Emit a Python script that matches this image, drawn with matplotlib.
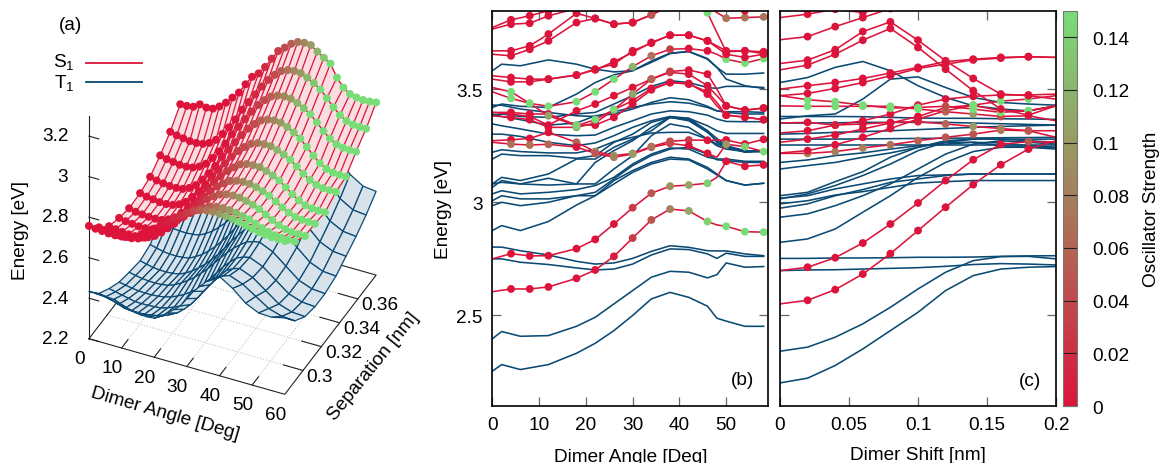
import matplotlib
matplotlib.use('Agg')
import matplotlib.pyplot as plt
import numpy as np
from matplotlib.colors import LinearSegmentedColormap
from matplotlib.lines import Line2D

plt.rcParams['font.family'] = ['Liberation Sans', 'DejaVu Sans']
plt.rcParams['mathtext.default'] = 'regular'
plt.rcParams['font.size'] = 13.7

# ------------------------------
# panel (a): surfaces
surf_angle = list(range(0, 62, 2))
mesh_angle = list(range(0, 42, 2)) + [44, 48, 52, 56, 60]
separation = [0.28, 0.291, 0.302, 0.313, 0.324, 0.336, 0.347, 0.358, 0.369, 0.38]

s1_r0 = [2.757, 2.752, 2.750, 2.747, 2.747, 2.750, 2.757, 2.769, 2.789, 2.810, 2.835, 2.864, 2.888, 2.913, 2.937, 2.959, 2.976, 2.990, 2.998, 3.000, 2.999, 2.997, 2.992, 2.987, 2.979, 2.971, 2.964, 2.960, 2.957, 2.957, 2.957]
s1_r1 = [2.685, 2.680, 2.677, 2.674, 2.674, 2.677, 2.685, 2.698, 2.720, 2.744, 2.771, 2.803, 2.830, 2.857, 2.884, 2.908, 2.927, 2.943, 2.951, 2.954, 2.953, 2.949, 2.942, 2.935, 2.923, 2.910, 2.900, 2.893, 2.890, 2.889, 2.889]
s1_r2 = [2.626, 2.620, 2.616, 2.613, 2.613, 2.616, 2.626, 2.642, 2.668, 2.698, 2.730, 2.769, 2.802, 2.834, 2.867, 2.896, 2.919, 2.938, 2.948, 2.951, 2.950, 2.943, 2.933, 2.921, 2.903, 2.885, 2.869, 2.858, 2.853, 2.852, 2.852]
s1_r3 = [2.602, 2.595, 2.591, 2.588, 2.588, 2.591, 2.602, 2.620, 2.648, 2.679, 2.715, 2.757, 2.792, 2.827, 2.862, 2.894, 2.919, 2.940, 2.950, 2.954, 2.953, 2.946, 2.935, 2.922, 2.903, 2.883, 2.866, 2.854, 2.849, 2.848, 2.848]
s1_r4 = [2.585, 2.577, 2.573, 2.570, 2.570, 2.573, 2.585, 2.604, 2.635, 2.670, 2.709, 2.755, 2.794, 2.833, 2.871, 2.906, 2.933, 2.957, 2.968, 2.972, 2.971, 2.961, 2.948, 2.932, 2.908, 2.883, 2.862, 2.847, 2.840, 2.839, 2.839]
s1_r5 = [2.589, 2.581, 2.577, 2.572, 2.572, 2.577, 2.589, 2.610, 2.643, 2.681, 2.722, 2.772, 2.814, 2.855, 2.897, 2.934, 2.963, 2.988, 3.001, 3.005, 3.004, 2.994, 2.981, 2.964, 2.940, 2.914, 2.892, 2.877, 2.870, 2.869, 2.869]
s1_r6 = [2.605, 2.596, 2.591, 2.587, 2.587, 2.591, 2.605, 2.628, 2.664, 2.704, 2.750, 2.804, 2.849, 2.894, 2.939, 2.980, 3.012, 3.039, 3.052, 3.057, 3.055, 3.043, 3.025, 3.004, 2.972, 2.938, 2.910, 2.891, 2.882, 2.880, 2.880]
s1_r7 = [2.646, 2.637, 2.632, 2.627, 2.627, 2.632, 2.646, 2.669, 2.706, 2.748, 2.795, 2.851, 2.897, 2.944, 2.990, 3.032, 3.065, 3.092, 3.106, 3.111, 3.109, 3.097, 3.080, 3.059, 3.028, 2.995, 2.967, 2.948, 2.940, 2.938, 2.938]
s1_r8 = [2.698, 2.689, 2.684, 2.679, 2.679, 2.684, 2.698, 2.722, 2.760, 2.802, 2.850, 2.907, 2.954, 3.001, 3.049, 3.091, 3.125, 3.153, 3.167, 3.172, 3.170, 3.157, 3.139, 3.117, 3.083, 3.048, 3.018, 2.998, 2.989, 2.987, 2.987]
s1_r9 = [2.769, 2.770, 2.775, 2.796, 2.789, 2.793, 2.813, 2.841, 2.875, 2.909, 2.959, 3.005, 3.031, 3.072, 3.122, 3.169, 3.195, 3.223, 3.241, 3.246, 3.244, 3.221, 3.200, 3.180, 3.120, 3.080, 3.057, 3.049, 3.046, 3.048, 3.052]
s1_rows = [s1_r0, s1_r1, s1_r2, s1_r3, s1_r4, s1_r5, s1_r6, s1_r7, s1_r8, s1_r9]
s1_osc = [0, 0, 0, 0, 0, 0, 0, 0, 0, 0, 0, 0.005, 0.01, 0.015, 0.02, 0.03, 0.04, 0.055, 0.07, 0.085, 0.1, 0.12, 0.135, 0.15, 0.15, 0.15, 0.15, 0.15, 0.15, 0.15, 0.15]

t1_rows = [
    [2.433, 2.433, 2.434, 2.431, 2.428, 2.414, 2.400, 2.394, 2.390, 2.390, 2.393, 2.412, 2.436, 2.463, 2.490, 2.535, 2.580, 2.614, 2.647, 2.672, 2.690, 2.650, 2.595, 2.565, 2.562, 2.577],
    [2.359, 2.351, 2.343, 2.332, 2.321, 2.319, 2.318, 2.320, 2.324, 2.332, 2.343, 2.356, 2.373, 2.400, 2.432, 2.472, 2.516, 2.558, 2.597, 2.618, 2.630, 2.606, 2.564, 2.522, 2.502, 2.498],
    [2.318, 2.311, 2.304, 2.297, 2.290, 2.289, 2.290, 2.292, 2.295, 2.305, 2.318, 2.333, 2.352, 2.384, 2.420, 2.460, 2.501, 2.538, 2.572, 2.590, 2.600, 2.574, 2.527, 2.480, 2.458, 2.454],
    [2.285, 2.279, 2.273, 2.269, 2.267, 2.268, 2.270, 2.276, 2.285, 2.299, 2.316, 2.337, 2.361, 2.394, 2.431, 2.470, 2.508, 2.540, 2.569, 2.582, 2.590, 2.563, 2.514, 2.465, 2.443, 2.438],
    [2.269, 2.262, 2.256, 2.253, 2.252, 2.254, 2.259, 2.272, 2.289, 2.311, 2.335, 2.364, 2.395, 2.431, 2.468, 2.502, 2.534, 2.560, 2.583, 2.594, 2.600, 2.571, 2.519, 2.467, 2.443, 2.438],
    [2.255, 2.247, 2.240, 2.237, 2.236, 2.239, 2.244, 2.259, 2.278, 2.303, 2.330, 2.363, 2.398, 2.438, 2.480, 2.518, 2.555, 2.585, 2.611, 2.623, 2.630, 2.598, 2.542, 2.486, 2.459, 2.454],
    [2.270, 2.262, 2.254, 2.251, 2.250, 2.253, 2.258, 2.275, 2.295, 2.322, 2.352, 2.388, 2.426, 2.470, 2.516, 2.558, 2.598, 2.631, 2.660, 2.672, 2.680, 2.645, 2.584, 2.522, 2.493, 2.487],
    [2.320, 2.311, 2.303, 2.300, 2.299, 2.302, 2.307, 2.324, 2.345, 2.373, 2.404, 2.441, 2.480, 2.526, 2.572, 2.615, 2.656, 2.690, 2.719, 2.732, 2.740, 2.700, 2.630, 2.560, 2.527, 2.520],
    [2.380, 2.371, 2.363, 2.360, 2.358, 2.361, 2.367, 2.385, 2.406, 2.435, 2.466, 2.504, 2.543, 2.590, 2.638, 2.682, 2.724, 2.759, 2.789, 2.802, 2.810, 2.765, 2.686, 2.606, 2.568, 2.561],
    [2.460, 2.451, 2.443, 2.440, 2.439, 2.442, 2.447, 2.465, 2.485, 2.514, 2.544, 2.581, 2.620, 2.666, 2.712, 2.755, 2.796, 2.830, 2.859, 2.872, 2.880, 2.832, 2.747, 2.661, 2.621, 2.613],
]

# ------------------------------
# panel (b): energy against dimer angle
angle_t = [0, 2, 6, 12, 18, 22, 26, 30, 34, 38, 42, 46, 48, 50, 54, 58]
angle_s = [0, 4, 8, 12, 18, 22, 26, 30, 34, 38, 42, 46, 48, 50, 54, 58]
angle_marks = [4, 8, 12, 18, 22, 26, 30, 34, 38, 42, 46, 50, 54, 58]

t_angle = [
    [2.254, 2.283, 2.261, 2.283, 2.333, 2.377, 2.433, 2.500, 2.573, 2.602, 2.580, 2.541, 2.488, 2.475, 2.452, 2.452],
    [2.397, 2.429, 2.408, 2.411, 2.452, 2.492, 2.551, 2.610, 2.669, 2.695, 2.691, 2.666, 2.680, 2.732, 2.713, 2.716],
    [2.750, 2.750, 2.735, 2.725, 2.710, 2.701, 2.705, 2.727, 2.767, 2.794, 2.791, 2.772, 2.752, 2.775, 2.761, 2.761],
    [2.802, 2.802, 2.786, 2.767, 2.739, 2.727, 2.732, 2.752, 2.783, 2.808, 2.801, 2.786, 2.785, 2.785, 2.772, 2.764],
    [2.875, 2.897, 2.875, 2.915, 2.988, 3.029, 3.081, 3.132, 3.169, 3.191, 3.187, 3.147, 3.121, 3.096, 3.076, 3.084],
    [2.985, 3.000, 2.985, 3.000, 3.029, 3.029, 3.096, 3.140, 3.176, 3.199, 3.191, 3.154, 3.125, 3.096, 3.076, 3.084],
    [3.007, 3.029, 3.015, 3.015, 3.029, 3.044, 3.103, 3.162, 3.206, 3.235, 3.243, 3.213, 3.188, 3.184, 3.176, 3.176],
    [3.037, 3.051, 3.037, 3.044, 3.056, 3.074, 3.110, 3.169, 3.213, 3.240, 3.235, 3.199, 3.191, 3.191, 3.181, 3.181],
    [3.081, 3.110, 3.096, 3.125, 3.191, 3.191, 3.243, 3.279, 3.316, 3.375, 3.365, 3.316, 3.282, 3.250, 3.228, 3.224],
    [3.066, 3.096, 3.081, 3.106, 3.081, 3.176, 3.228, 3.272, 3.331, 3.375, 3.360, 3.309, 3.272, 3.246, 3.224, 3.228],
    [3.081, 3.088, 3.081, 3.076, 3.081, 3.081, 3.147, 3.206, 3.294, 3.346, 3.331, 3.279, 3.257, 3.243, 3.221, 3.224],
    [3.191, 3.213, 3.206, 3.206, 3.194, 3.206, 3.265, 3.301, 3.353, 3.375, 3.371, 3.316, 3.265, 3.243, 3.228, 3.224],
    [3.221, 3.232, 3.224, 3.218, 3.218, 3.235, 3.268, 3.287, 3.306, 3.309, 3.309, 3.279, 3.250, 3.235, 3.224, 3.228],
    [3.301, 3.301, 3.291, 3.265, 3.250, 3.262, 3.294, 3.331, 3.360, 3.379, 3.371, 3.338, 3.316, 3.304, 3.304, 3.304],
    [3.346, 3.338, 3.324, 3.301, 3.294, 3.297, 3.331, 3.360, 3.390, 3.404, 3.400, 3.385, 3.368, 3.357, 3.356, 3.356],
    [3.390, 3.379, 3.365, 3.341, 3.350, 3.382, 3.390, 3.412, 3.441, 3.462, 3.453, 3.424, 3.404, 3.397, 3.390, 3.390],
    [3.429, 3.429, 3.412, 3.397, 3.382, 3.379, 3.400, 3.419, 3.434, 3.444, 3.438, 3.419, 3.404, 3.400, 3.400, 3.397],
    [3.419, 3.434, 3.424, 3.419, 3.478, 3.529, 3.563, 3.581, 3.618, 3.657, 3.666, 3.632, 3.596, 3.566, 3.566, 3.571],
    [3.581, 3.610, 3.603, 3.629, 3.610, 3.588, 3.576, 3.581, 3.624, 3.659, 3.666, 3.635, 3.596, 3.544, 3.515, 3.503],
    [3.382, 3.390, 3.379, 3.375, 3.390, 3.397, 3.434, 3.471, 3.512, 3.537, 3.529, 3.507, 3.503, 3.512, 3.512, 3.507],
]

s_angle = [
    [2.605, 2.617, 2.617, 2.626, 2.664, 2.701, 2.761, 2.842, 2.922, 2.970, 2.962, 2.915, 2.900, 2.894, 2.870, 2.868],
    [2.750, 2.773, 2.763, 2.764, 2.795, 2.836, 2.904, 2.976, 3.040, 3.071, 3.076, 3.084, 3.110, 3.181, 3.159, 3.165],
    [3.272, 3.276, 3.282, 3.309, 3.265, 3.224, 3.206, 3.216, 3.246, 3.269, 3.275, 3.274, 3.274, 3.275, 3.257, 3.278],
    [3.265, 3.257, 3.253, 3.256, 3.244, 3.216, 3.199, 3.213, 3.243, 3.260, 3.250, 3.216, 3.199, 3.256, 3.246, 3.224],
    [3.397, 3.397, 3.390, 3.390, 3.341, 3.341, 3.375, 3.434, 3.497, 3.529, 3.525, 3.478, 3.426, 3.385, 3.376, 3.365],
    [3.382, 3.375, 3.365, 3.331, 3.331, 3.350, 3.409, 3.449, 3.503, 3.529, 3.522, 3.488, 3.441, 3.385, 3.376, 3.365],
    [3.397, 3.390, 3.379, 3.341, 3.404, 3.434, 3.471, 3.507, 3.544, 3.578, 3.584, 3.566, 3.500, 3.426, 3.407, 3.416],
    [3.488, 3.459, 3.437, 3.382, 3.338, 3.365, 3.409, 3.478, 3.544, 3.574, 3.566, 3.515, 3.471, 3.426, 3.407, 3.416],
    [3.507, 3.488, 3.437, 3.424, 3.444, 3.488, 3.544, 3.599, 3.647, 3.676, 3.679, 3.669, 3.654, 3.632, 3.615, 3.635],
    [3.559, 3.551, 3.544, 3.544, 3.562, 3.585, 3.621, 3.662, 3.706, 3.738, 3.738, 3.713, 3.691, 3.669, 3.669, 3.665],
    [3.544, 3.532, 3.532, 3.544, 3.562, 3.588, 3.610, 3.669, 3.703, 3.738, 3.738, 3.713, 3.684, 3.654, 3.640, 3.654],
    [3.669, 3.669, 3.691, 3.743, 3.835, 3.812, 3.787, 3.794, 3.828, 3.868, 3.882, 3.837, 3.750, 3.665, 3.669, 3.657],
    [3.654, 3.647, 3.676, 3.713, 3.794, 3.812, 3.787, 3.794, 3.828, 3.868, 3.890, 3.868, 3.838, 3.813, 3.816, 3.819],
    [3.772, 3.806, 3.824, 3.846, 3.868, 3.882, 3.912, 3.926, 3.941, 3.941, 3.926, 3.904, 3.890, 3.875, 3.846, 3.875],
    [3.765, 3.787, 3.791, 3.824, 3.856, 3.875, 3.897, 3.912, 3.926, 3.926, 3.912, 3.890, 3.880, 3.875, 3.868, 3.875],
]

# oscillator strength at the marked angles only
osc_angle = [
    [0, 0, 0, 0, 0, 0.005, 0.03, 0.05, 0.08, 0.11, 0.14, 0.15, 0.15, 0.15],
    [0, 0, 0, 0, 0, 0, 0.03, 0.05, 0.09, 0.11, 0.14, 0, 0, 0],
    [0, 0, 0, 0.06, 0.09, 0.1, 0.1, 0.07, 0.04, 0.03, 0, 0, 0, 0],
    [0.07, 0.07, 0.06, 0, 0.05, 0.08, 0.1, 0.07, 0.04, 0, 0, 0.1, 0.14, 0.15],
    [0, 0, 0, 0.13, 0, 0, 0, 0, 0, 0, 0, 0, 0, 0],
    [0, 0, 0, 0.11, 0, 0, 0, 0, 0, 0, 0, 0, 0, 0],
    [0, 0, 0, 0, 0, 0, 0, 0.03, 0.03, 0, 0, 0, 0, 0],
    [0.15, 0.15, 0.11, 0.14, 0.15, 0.15, 0.11, 0.06, 0.03, 0, 0, 0, 0, 0],
    [0.15, 0.15, 0.15, 0.15, 0.15, 0.15, 0.12, 0.07, 0.03, 0, 0, 0.15, 0.15, 0.15],
    [0, 0, 0, 0, 0, 0, 0, 0, 0, 0, 0, 0, 0, 0],
    [0, 0, 0, 0, 0, 0, 0, 0, 0, 0, 0, 0, 0, 0],
    [0, 0, 0, 0, 0, 0, 0, 0.05, 0, 0, 0.15, 0, 0, 0],
    [0, 0, 0, 0, 0, 0, 0, 0.05, 0, 0, 0, 0.07, 0.07, 0.07],
    [0, 0, 0, 0, 0, 0, 0, 0, 0, 0, 0, 0, 0, 0],
    [0, 0, 0, 0, 0, 0, 0, 0, 0, 0, 0, 0, 0, 0],
]

# ------------------------------
# panel (c): energy against dimer shift
shift = [0, 0.02, 0.04, 0.06, 0.08, 0.1, 0.12, 0.14, 0.16, 0.18, 0.2]
shift_marks = [0.02, 0.04, 0.06, 0.08, 0.1, 0.12, 0.14, 0.16, 0.18]

t_shift = [
    [2.202, 2.223, 2.279, 2.352, 2.433, 2.514, 2.610, 2.676, 2.705, 2.713, 2.716],
    [2.342, 2.360, 2.404, 2.463, 2.536, 2.617, 2.691, 2.742, 2.760, 2.761, 2.750],
    [2.698, 2.701, 2.702, 2.705, 2.708, 2.711, 2.717, 2.725, 2.729, 2.727, 2.723],
    [2.752, 2.752, 2.754, 2.754, 2.755, 2.757, 2.757, 2.758, 2.761, 2.763, 2.764],
    [2.823, 2.838, 2.882, 2.956, 3.029, 3.110, 3.176, 3.224, 3.243, 3.243, 3.243],
    [2.934, 2.949, 2.985, 3.029, 3.081, 3.147, 3.213, 3.257, 3.272, 3.265, 3.257],
    [2.974, 2.993, 3.029, 3.056, 3.088, 3.103, 3.118, 3.125, 3.125, 3.125, 3.125],
    [2.993, 3.007, 3.032, 3.047, 3.066, 3.085, 3.091, 3.096, 3.096, 3.096, 3.096],
    [3.015, 3.037, 3.074, 3.118, 3.169, 3.228, 3.265, 3.279, 3.279, 3.272, 3.265],
    [3.029, 3.044, 3.091, 3.135, 3.199, 3.243, 3.265, 3.265, 3.250, 3.243, 3.235],
    [3.018, 3.029, 3.059, 3.081, 3.103, 3.118, 3.121, 3.125, 3.125, 3.125, 3.125],
    [3.147, 3.162, 3.176, 3.199, 3.218, 3.243, 3.272, 3.279, 3.279, 3.279, 3.279],
    [3.176, 3.187, 3.206, 3.218, 3.235, 3.250, 3.257, 3.265, 3.262, 3.250, 3.243],
    [3.253, 3.253, 3.253, 3.253, 3.253, 3.253, 3.253, 3.253, 3.253, 3.253, 3.253],
    [3.279, 3.279, 3.279, 3.280, 3.281, 3.282, 3.283, 3.284, 3.285, 3.286, 3.287],
    [3.301, 3.304, 3.309, 3.312, 3.316, 3.321, 3.326, 3.331, 3.335, 3.338, 3.341],
    [3.350, 3.350, 3.351, 3.353, 3.353, 3.353, 3.353, 3.350, 3.347, 3.344, 3.341],
    [3.379, 3.379, 3.379, 3.378, 3.375, 3.372, 3.371, 3.371, 3.369, 3.368, 3.366],
    [3.529, 3.551, 3.596, 3.622, 3.581, 3.515, 3.463, 3.426, 3.412, 3.404, 3.426],
    [3.368, 3.382, 3.390, 3.456, 3.544, 3.554, 3.507, 3.463, 3.441, 3.434, 3.429],
]

s_shift = [
    [2.551, 2.567, 2.614, 2.683, 2.773, 2.875, 2.978, 3.078, 3.166, 3.235, 3.272],
    [2.698, 2.713, 2.755, 2.820, 2.904, 2.997, 3.096, 3.188, 3.256, 3.268, 3.265],
    [3.216, 3.216, 3.224, 3.240, 3.254, 3.272, 3.287, 3.301, 3.319, 3.316, 3.316],
    [3.218, 3.228, 3.254, 3.287, 3.326, 3.368, 3.404, 3.429, 3.404, 3.404, 3.426],
    [3.265, 3.279, 3.297, 3.324, 3.350, 3.379, 3.419, 3.429, 3.447, 3.456, 3.471],
    [3.306, 3.316, 3.341, 3.360, 3.390, 3.429, 3.456, 3.468, 3.474, 3.474, 3.478],
    [3.350, 3.353, 3.341, 3.346, 3.353, 3.356, 3.346, 3.335, 3.326, 3.316, 3.287],
    [3.426, 3.424, 3.424, 3.424, 3.424, 3.412, 3.400, 3.390, 3.379, 3.382, 3.360],
    [3.471, 3.453, 3.444, 3.429, 3.416, 3.419, 3.424, 3.412, 3.397, 3.404, 3.426],
    [3.500, 3.515, 3.529, 3.547, 3.571, 3.596, 3.621, 3.632, 3.640, 3.643, 3.640],
    [3.471, 3.481, 3.503, 3.529, 3.559, 3.591, 3.610, 3.629, 3.637, 3.643, 3.640],
    [3.613, 3.628, 3.674, 3.754, 3.797, 3.716, 3.625, 3.547, 3.478, 3.471, 3.456],
    [3.585, 3.606, 3.654, 3.716, 3.768, 3.684, 3.588, 3.493, 3.412, 3.385, 3.426],
    [3.718, 3.732, 3.776, 3.816, 3.856, 3.919, 4.000, 4.000, 4.000, 4.000, 4.000],
    [3.816, 3.831, 3.853, 3.838, 3.868, 3.950, 4.000, 4.000, 4.000, 4.000, 4.000],
]

osc_shift = [
    [0, 0, 0, 0, 0, 0, 0, 0, 0],
    [0, 0, 0, 0, 0, 0, 0, 0, 0.05],
    [0.08, 0.08, 0.08, 0.07, 0.06, 0.05, 0.05, 0.07, 0.06],
    [0, 0, 0, 0, 0, 0.04, 0.1, 0.13, 0.15],
    [0, 0, 0, 0, 0, 0.15, 0.15, 0.15, 0.15],
    [0, 0, 0, 0, 0, 0, 0, 0, 0],
    [0, 0.01, 0, 0, 0.01, 0.06, 0.1, 0.08, 0.05],
    [0.15, 0.15, 0.15, 0.15, 0.15, 0.06, 0.1, 0.04, 0.04],
    [0.15, 0.15, 0.15, 0.15, 0.15, 0.04, 0.15, 0.15, 0.15],
    [0, 0, 0, 0, 0, 0, 0, 0, 0],
    [0, 0, 0, 0, 0, 0, 0, 0, 0],
    [0, 0, 0, 0, 0, 0, 0, 0, 0],
    [0, 0, 0, 0, 0, 0, 0, 0, 0],
    [0, 0, 0, 0, 0, 0, 0, 0, 0],
    [0, 0, 0, 0, 0, 0, 0, 0, 0],
]

# ------------------------------
W, H = 1159, 464
RED = '#dc143c'
BLUE = '#0b4a74'
cmap = LinearSegmentedColormap.from_list('osc', [RED, '#77dd77'])
VMAX = 0.15

fig = plt.figure(figsize=(W / 100, H / 100), dpi=100)


def px_text(x, y, s, **kw):
    # texto colocado en pixeles de la imagen
    kw.setdefault('ha', 'center')
    kw.setdefault('va', 'center')
    return fig.text(x / W, 1 - y / H, s, **kw)


def px_rect(left, top, right, bottom):
    return [left / W, 1 - bottom / H, (right - left) / W, (bottom - top) / H]


# panel (a)
ax3 = fig.add_axes([-0.035, 0.0425, 0.46, 1.04], projection='3d', computed_zorder=False)
ax3.set_proj_type('ortho')
ax3.view_init(elev=37.5, azim=-65)
ax3.set_box_aspect((1, 1, 1.3), zoom=0.835)
ax3.set_xlim(0, 60, view_margin=0)
ax3.set_ylim(0.28, 0.38, view_margin=0)
ax3.set_zlim(2.2, 3.3, view_margin=0)
ax3.set_axis_off()
ax3.patch.set_alpha(0)

AX_COLOR = '#222222'
# suelo y ejes
for tick in [10, 20, 30, 40, 50]:
    ax3.plot([tick, tick], [0.28, 0.38], [2.2, 2.2], color='#c4c4c4', ls=':', lw=0.8, zorder=1)
    ax3.plot([tick, tick], [0.28, 0.287], [2.2, 2.2], color=AX_COLOR, lw=0.8, zorder=1.5)
for tick in [0.30, 0.32, 0.34, 0.36]:
    ax3.plot([0, 60], [tick, tick], [2.2, 2.2], color='#c4c4c4', ls=':', lw=0.8, zorder=1)
    ax3.plot([54, 60], [tick, tick], [2.2, 2.2], color=AX_COLOR, lw=0.8, zorder=1.5)
ax3.plot([0, 60, 60, 0, 0], [0.28, 0.28, 0.38, 0.38, 0.28], [2.2] * 5, color=AX_COLOR, lw=0.8, zorder=1.5)
ax3.plot([0, 0], [0.28, 0.28], [2.2, 3.3], color=AX_COLOR, lw=0.8, zorder=1.5)
for tick in [2.2, 2.4, 2.6, 2.8, 3.0, 3.2]:
    ax3.plot([0, 3], [0.28, 0.28], [tick, tick], color=AX_COLOR, lw=0.8, zorder=1.5)
    ax3.text(-6.3, 0.28, tick - 0.028, ('%g' % tick), ha='right', va='center', zorder=20)
for tick in [0, 10, 20, 30, 40, 50, 60]:
    ax3.text(tick + 1.4, 0.2645, 2.2, '%d' % tick, ha='center', va='center', zorder=20)
for tick in [0.30, 0.32, 0.34, 0.36]:
    ax3.text(62, tick - 0.0033, 2.2, '%g' % tick, ha='left', va='center', zorder=20)

# superficie T1
mx, my = np.meshgrid(mesh_angle, separation)
ax3.plot_surface(mx, my, np.array(t1_rows), rstride=1, cstride=1, color='#d8e2ea',
                 edgecolor=BLUE, linewidth=0.9, shade=False, zorder=2)

# superficie S1
sx, sy = np.meshgrid(surf_angle, separation)
sz = np.array(s1_rows)
ax3.plot_surface(sx, sy, sz, rstride=1, cstride=1, color='#fadde1', edgecolor='#fadde1',
                 linewidth=0.2, shade=False, zorder=3)
for j, a in enumerate(surf_angle):
    ax3.plot([a] * len(separation), separation, sz[:, j], color=RED, lw=0.9, zorder=4)
for i in range(len(separation) - 1, -1, -1):
    ax3.plot(surf_angle, [separation[i]] * len(surf_angle), sz[i], color=RED, lw=1.0, zorder=5 + (9 - i))
    ax3.scatter(surf_angle, [separation[i]] * len(surf_angle), sz[i], c=s1_osc, cmap=cmap, vmin=0, vmax=VMAX,
                s=33, linewidths=0, depthshade=False, zorder=5.5 + (9 - i))

px_text(70, 26, '(a)')
px_text(20.7, 230, 'Energy [eV]', rotation=90)
px_text(165, 414, 'Dimer Angle [Deg]', rotation=-16, rotation_mode='anchor')
px_text(373, 367, 'Separation [nm]', rotation=51, rotation_mode='anchor')
px_text(64, 62, 'S$_1$', ha='center')
px_text(64, 83, 'T$_1$', ha='center')
fig.add_artist(Line2D([86 / W, 142 / W], [1 - 63.5 / H] * 2, color=RED, lw=1.3))
fig.add_artist(Line2D([86 / W, 142 / W], [1 - 83 / H] * 2, color=BLUE, lw=1.3))


def draw_panel(ax, xt, t_lines, xs, s_lines, xm, osc_lines):
    for row in t_lines:
        ax.plot(xt, row, color=BLUE, lw=1.15, zorder=2)
    for row in s_lines:
        ax.plot(xs, row, color=RED, lw=1.15, zorder=3)
    for row, osc in zip(s_lines, osc_lines):
        ym = [row[xs.index(v)] for v in xm]
        ax.scatter(xm, ym, c=osc, cmap=cmap, vmin=0, vmax=VMAX, s=32, linewidths=0, zorder=4)
    ax.tick_params(direction='in', top=True, right=True, length=6.5, width=0.9, color='#666666', pad=7)
    for spine in ax.spines.values():
        spine.set_linewidth(1.2)
        spine.set_zorder(6)


# panel (b)
ax_b = fig.add_axes(px_rect(492.3, 12, 768.3, 407))
draw_panel(ax_b, angle_t, t_angle, angle_s, s_angle, angle_marks, osc_angle)
ax_b.set_xlim(0, 59)
ax_b.set_ylim(2.1, 3.845)
ax_b.set_xticks([0, 10, 20, 30, 40, 50])
ax_b.set_yticks([2.5, 3, 3.5])
ax_b.set_yticklabels(['2.5', '3', '3.5'])
ax_b.set_xlabel('Dimer Angle [Deg]', labelpad=11)
ax_b.set_ylabel('Energy [eV]', labelpad=3)
px_text(742, 381, '(b)')

# panel (c)
ax_c = fig.add_axes(px_rect(780, 12, 1056, 407))
draw_panel(ax_c, shift, t_shift, shift, s_shift, shift_marks, osc_shift)
ax_c.set_xlim(0, 0.2)
ax_c.set_ylim(2.1, 3.845)
ax_c.set_xticks([0, 0.05, 0.1, 0.15, 0.2])
ax_c.set_xticklabels(['0', '0.05', '0.1', '0.15', '0.2'])
ax_c.set_yticks([2.5, 3, 3.5])
ax_c.set_yticklabels([])
ax_c.set_xlabel('Dimer Shift [nm]', labelpad=9.5)
px_text(1030, 382, '(c)')

# barra de color
cax = fig.add_axes(px_rect(1063, 12, 1077, 407))
sm = plt.cm.ScalarMappable(cmap=cmap, norm=plt.Normalize(0, VMAX))
cb = fig.colorbar(sm, cax=cax)
cb.set_ticks([0, 0.02, 0.04, 0.06, 0.08, 0.1, 0.12, 0.14])
cb.set_ticklabels(['0', '0.02', '0.04', '0.06', '0.08', '0.1', '0.12', '0.14'])
cb.ax.tick_params(direction='in', length=10, width=0.8, color='#222222', pad=11)
cb.outline.set_linewidth(0.8)
cb.outline.set_edgecolor('#777777')
cb.set_label('Oscillator Strength', labelpad=10)

fig.savefig('out.png', dpi=100)
